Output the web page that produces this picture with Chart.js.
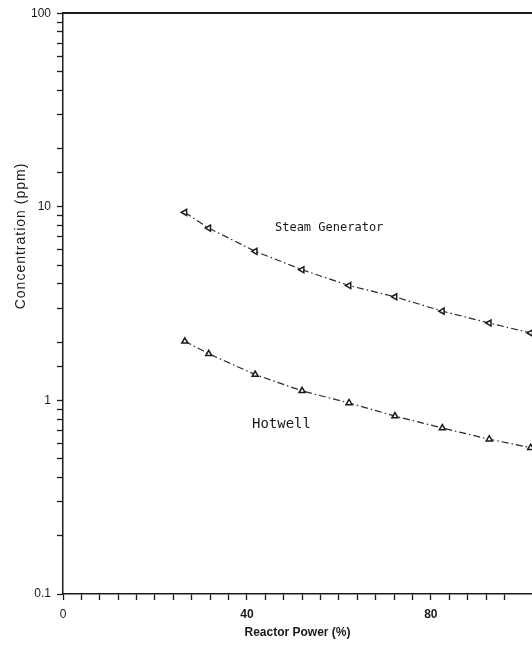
<!DOCTYPE html>
<html>
<head>
<meta charset="utf-8">
<script src="https://cdn.jsdelivr.net/npm/chart.js@4"></script>
<style>
    body { margin: 0; background: #fff; }
    #wrap { width: 532px; height: 649px; position: relative; }
</style>
</head>
<body>
<div id="wrap"><canvas id="concChart"></canvas></div>
<script>
// reactor power (%) for each sample
const power = [26.5, 31.7, 41.8, 52.0, 62.2, 72.2, 82.5, 92.7, 101.7];
const steamGenerator = [9.35, 7.76, 5.89, 4.73, 3.92, 3.43, 2.89, 2.51, 2.23];
const hotwell = [2.02, 1.74, 1.36, 1.12, 0.97, 0.83, 0.72, 0.63, 0.57];

const xLabels = [0, 40, 80];
const yLabels = [0.1, 1, 10, 100];

// text labels placed in data coordinates
const curveLabels = [
    { text: 'Steam Generator', x: 46.1, y: 7.8, size: 12 },
    { text: 'Hotwell', x: 41.1, y: 0.75, size: 14 }
];

const ink = '#1a1a1a';

function toPoints(values) {
    return power.map((p, i) => ({ x: p, y: values[i] }));
}

const labelPlugin = {
    id: 'labelPlugin',
    afterDatasetsDraw(chart) {
        const ctx = chart.ctx;
        const xs = chart.scales.x;
        const ys = chart.scales.y;
        ctx.save();
        ctx.fillStyle = ink;
        ctx.textBaseline = 'middle';
        ctx.textAlign = 'left';
        curveLabels.forEach(l => {
            ctx.font = l.size + 'px "DejaVu Sans Mono", monospace';
            ctx.fillText(l.text, xs.getPixelForValue(l.x), ys.getPixelForValue(l.y));
        });
        // y axis title sits above the middle of the axis in the original
        ctx.translate(21, 236);
        ctx.rotate(-Math.PI / 2);
        ctx.textAlign = 'center';
        ctx.font = '14px "Liberation Sans", Arial, sans-serif';
        ctx.letterSpacing = '1px';
        ctx.fillText('Concentration (ppm)', 0, 0);
        ctx.restore();
    }
};

const lineStyle = {
    borderColor: '#2a2a2a',
    borderWidth: 1.2,
    borderDash: [7, 3, 1.5, 3],
    pointBackgroundColor: '#fff',
    pointBorderColor: ink,
    pointBorderWidth: 1.5,
    pointRadius: 3.5,
    pointStyle: 'triangle',
    tension: 0,
    fill: false
};

new Chart(document.getElementById('concChart'), {
    type: 'scatter',
    data: {
        datasets: [
            Object.assign({ label: 'Steam Generator', data: toPoints(steamGenerator), pointRotation: 270, showLine: true }, lineStyle),
            Object.assign({ label: 'Hotwell', data: toPoints(hotwell), pointRotation: 0, showLine: true }, lineStyle)
        ]
    },
    options: {
        responsive: true,
        maintainAspectRatio: false,
        animation: false,
        layout: { padding: 0, autoPadding: false },
        plugins: {
            legend: { display: false },
            tooltip: { enabled: false }
        },
        scales: {
            x: {
                type: 'linear',
                position: 'bottom',
                min: 0,
                max: 102,
                afterBuildTicks: axis => {
                    axis.ticks = axis.ticks.filter(t => t.value % 4 === 0);
                },
                afterFit: axis => {
                    axis.height = 55;
                    axis.paddingRight = 0;
                },
                ticks: {
                    stepSize: 4,
                    autoSkip: false,
                    maxRotation: 0,
                    padding: 7,
                    color: ink,
                    font: ctx => ({
                        family: '"Liberation Sans", Arial, sans-serif',
                        size: 12,
                        weight: ctx.tick && ctx.tick.value === 0 ? 'normal' : 'bold'
                    }),
                    callback: v => xLabels.includes(v) ? String(v) : ''
                },
                grid: {
                    drawOnChartArea: false,
                    tickLength: 6,
                    tickColor: ink,
                    tickWidth: 1.3
                },
                border: { color: ink, width: 1.5 },
                title: {
                    display: true,
                    text: 'Reactor Power (%)',
                    color: ink,
                    font: { family: '"Liberation Sans", Arial, sans-serif', size: 12, weight: 'bold' },
                    padding: { top: 0, bottom: 9 }
                }
            },
            xTop: {
                type: 'linear',
                position: 'top',
                min: 0,
                max: 102,
                afterFit: axis => {
                    axis.height = 13;
                    axis.paddingRight = 0;
                },
                ticks: { display: false },
                grid: { drawOnChartArea: false, drawTicks: false },
                border: { color: ink, width: 2 }
            },
            y: {
                type: 'logarithmic',
                min: 0.1,
                max: 100,
                afterFit: axis => { axis.width = 63; },
                ticks: {
                    autoSkip: false,
                    padding: 6,
                    color: ink,
                    font: { family: '"Liberation Sans", Arial, sans-serif', size: 12 },
                    callback: v => {
                        const hit = yLabels.find(l => Math.abs(l - v) < 1e-9 * Math.max(1, v));
                        return hit !== undefined ? String(hit) : '';
                    }
                },
                grid: {
                    drawOnChartArea: false,
                    tickLength: 6,
                    tickColor: ink,
                    tickWidth: 1.3
                },
                border: { color: ink, width: 1.5 }
            }
        }
    },
    plugins: [labelPlugin]
});
</script>
</body>
</html>
